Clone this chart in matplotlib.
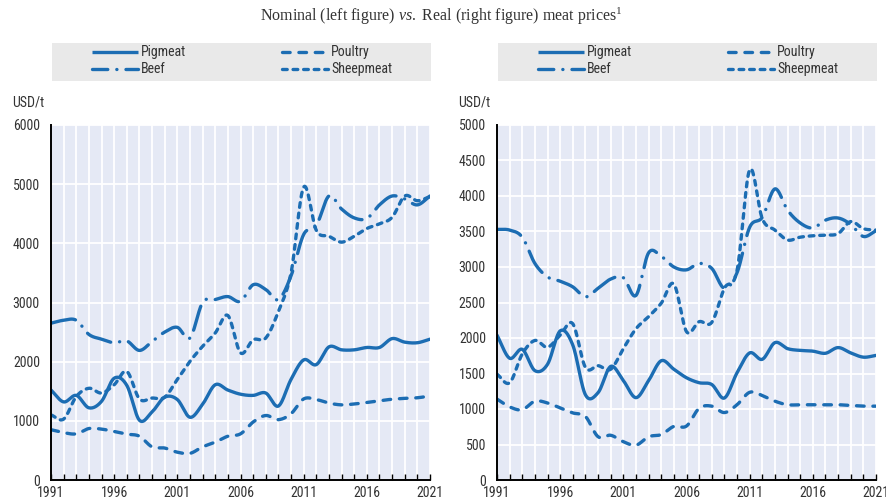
import matplotlib
matplotlib.use("Agg")
import matplotlib.pyplot as plt
import numpy as np
from matplotlib import font_manager
from matplotlib.font_manager import FontProperties
from matplotlib.lines import Line2D
from matplotlib.patches import Rectangle

# ---------------- data ----------------
years = list(range(1991, 2022))

nominal_pigmeat = [1520, 1320, 1430, 1220, 1330, 1720, 1600, 1010, 1150, 1400, 1360, 1060, 1280, 1610, 1520,
                   1450, 1430, 1470, 1250, 1700, 2030, 1950, 2250, 2200, 2200, 2240, 2240, 2390, 2330, 2320, 2380]
nominal_poultry = [850, 800, 780, 870, 860, 820, 775, 740, 560, 540, 470, 450, 560, 640, 740,
                   780, 980, 1090, 1020, 1120, 1370, 1360, 1300, 1270, 1285, 1310, 1340, 1365, 1380, 1390, 1420]
nominal_beef = [2650, 2700, 2700, 2460, 2380, 2320, 2350, 2190, 2340, 2500, 2580, 2400, 3000, 3050, 3100,
                3020, 3300, 3220, 3050, 3450, 4150, 4300, 4800, 4580, 4430, 4420, 4650, 4800, 4750, 4650, 4800]
nominal_sheepmeat = [1100, 1030, 1410, 1550, 1470, 1610, 1835, 1370, 1385, 1400, 1700, 2005, 2260, 2485, 2780,
                     2150, 2370, 2400, 2850, 3500, 4950, 4220, 4120, 4020, 4120, 4250, 4330, 4440, 4800, 4720, 4790]

real_pigmeat = [2040, 1715, 1840, 1540, 1630, 2100, 1900, 1200, 1230, 1600, 1400, 1160, 1400, 1680, 1560,
                1440, 1370, 1345, 1155, 1510, 1790, 1700, 1935, 1850, 1825, 1815, 1785, 1865, 1790, 1730, 1755]
real_poultry = [1140, 1030, 990, 1110, 1085, 1015, 945, 895, 610, 630, 540, 490, 610, 640, 755,
                760, 1010, 1040, 950, 1060, 1235, 1190, 1110, 1060, 1060, 1060, 1060, 1060, 1050, 1040, 1040]
real_beef = [3530, 3520, 3420, 3050, 2860, 2800, 2720, 2580, 2700, 2830, 2850, 2600, 3200, 3150, 3000,
             2960, 3050, 2980, 2700, 2920, 3560, 3700, 4100, 3800, 3620, 3550, 3660, 3690, 3600, 3430, 3510]
real_sheepmeat = [1490, 1370, 1775, 1965, 1870, 2040, 2200, 1585, 1610, 1560, 1850, 2130, 2300, 2490, 2760,
                  2090, 2230, 2220, 2700, 2950, 4370, 3680, 3520, 3380, 3420, 3440, 3450, 3470, 3640, 3540, 3520]

series_names = ["Pigmeat", "Beef", "Poultry", "Sheepmeat"]
x_tick_labels = ["1991", "1996", "2001", "2006", "2011", "2016", "2021"]
left_yticks = [0, 1000, 2000, 3000, 4000, 5000, 6000]
right_yticks = [0, 500, 1000, 1500, 2000, 2500, 3000, 3500, 4000, 4500, 5000]
unit_label = "USD/t"
subtitle = r"Nominal (left figure) $\mathit{vs.}$ Real (right figure) meat prices$^{1}$"

# ---------------- fonts ----------------
def find_condensed():
    cands = []
    for f in font_manager.fontManager.ttflist:
        nm = (f.name + " " + f.fname).lower()
        if f.style != "normal" or f.weight not in (400, "normal", "regular"):
            continue
        if "narrow" in nm and "liberation" in nm:
            cands.append((0, f.fname))
        elif "condensed" in nm and "roboto" in nm:
            cands.append((1, f.fname))
        elif "condensed" in nm and ("open" in nm or "noto" in nm):
            cands.append((2, f.fname))
        elif "condensed" in nm and "dejavu" in nm and "bold" not in nm and "oblique" not in nm:
            cands.append((3, f.fname))
    if cands:
        cands.sort()
        return cands[0][1]
    return None


cond = find_condensed()
if cond:
    def FP(size):
        return FontProperties(fname=cond, size=size)
    base_size = 10
else:
    def FP(size):
        return FontProperties(family="Liberation Sans", size=size)
    base_size = 9

plt.rcParams["font.family"] = ["Liberation Sans", "DejaVu Sans"]
plt.rcParams["lines.scale_dashes"] = False
plt.rcParams["mathtext.fontset"] = "custom"
plt.rcParams["mathtext.rm"] = "Liberation Serif"
plt.rcParams["mathtext.it"] = "Liberation Serif:italic"

BLUE = "#1c6db3"
BG = "#e5e9f5"
TXT = "#333333"
LW = 2.4
styles = {
    "Pigmeat": dict(linestyle="-"),
    "Beef": dict(linestyle=(0, (18, 6.5, 0.1, 6.5))),
    "Poultry": dict(linestyle=(0, (5.5, 6.3))),
    "Sheepmeat": dict(linestyle=(0, (3.4, 4.2))),
}

W, H = 887, 504
fig = plt.figure(figsize=(W / 100, H / 100), dpi=100)


def fx(px):
    return px / W


def fy(py):
    return 1 - py / H


def smooth(x, y, n=24):
    x = np.asarray(x, float)
    y = np.asarray(y, float)
    px = np.concatenate([[2 * x[0] - x[1]], x, [2 * x[-1] - x[-2]]])
    py = np.concatenate([[2 * y[0] - y[1]], y, [2 * y[-1] - y[-2]]])
    xs, ys = [], []
    t = np.linspace(0, 1, n, endpoint=False)
    for i in range(1, len(px) - 2):
        for arr, out in ((px, xs), (py, ys)):
            p0, p1, p2, p3 = arr[i - 1], arr[i], arr[i + 1], arr[i + 2]
            out.append(0.5 * ((2 * p1) + (-p0 + p2) * t + (2 * p0 - 5 * p1 + 4 * p2 - p3) * t ** 2
                              + (-p0 + 3 * p1 - 3 * p2 + p3) * t ** 3))
    xs.append([x[-1]])
    ys.append([y[-1]])
    return np.concatenate(xs), np.concatenate(ys)


def make_panel(left_px, data, yticks, ymax):
    ax = fig.add_axes([fx(left_px), fy(480), fx(379), 355 / H])
    ax.set_facecolor(BG)
    for name in ["Sheepmeat", "Poultry", "Beef", "Pigmeat"]:
        sx, sy = smooth(years, data[name])
        ax.plot(sx, sy, color=BLUE, lw=LW, dash_capstyle="round", solid_capstyle="round",
                **styles[name])
    ax.set_xlim(years[0], years[-1])
    ax.set_ylim(0, ymax)
    ax.set_xticks([int(v) for v in x_tick_labels])
    ax.set_xticklabels(x_tick_labels, fontproperties=FP(base_size), color=TXT)
    ax.set_xticks(years, minor=True)
    ax.set_yticks(yticks)
    ax.set_yticklabels([str(v) for v in yticks], fontproperties=FP(base_size), color=TXT)
    ax.set_axisbelow(True)
    ax.grid(which="both", axis="x", color="white", lw=1.3)
    ax.grid(which="major", axis="y", color="white", lw=1.3)
    for s in ["top", "right"]:
        ax.spines[s].set_visible(False)
    for s in ["left", "bottom"]:
        ax.spines[s].set_color("black")
        ax.spines[s].set_linewidth(1.4)
    ax.tick_params(axis="x", which="both", direction="in", length=4.5, width=1.0, color="black", pad=4.5)
    ax.tick_params(axis="y", which="both", length=0, pad=8)
    fig.text(fx(left_px - 39), fy(103), unit_label, fontproperties=FP(base_size), color=TXT,
             va="center", ha="left")
    return ax


make_panel(51, {"Pigmeat": nominal_pigmeat, "Beef": nominal_beef, "Poultry": nominal_poultry,
                "Sheepmeat": nominal_sheepmeat}, left_yticks, 6000)
make_panel(497, {"Pigmeat": real_pigmeat, "Beef": real_beef, "Poultry": real_poultry,
                 "Sheepmeat": real_sheepmeat}, right_yticks, 5000)

# legends
for shift in (0, 446):
    fig.add_artist(Rectangle((fx(52 + shift), fy(81)), fx(379), 38 / H, transform=fig.transFigure,
                             facecolor="#e9e9e9", edgecolor="none", zorder=0))
    pos = {"Pigmeat": (92, 52), "Beef": (92, 69), "Poultry": (282, 52), "Sheepmeat": (282, 69)}
    for name in series_names:
        x0, y0 = pos[name]
        ls = styles[name]["linestyle"]
        if name == "Beef":
            ls = (7, (18, 6.5, 0.1, 6.5))
        fig.add_artist(Line2D([fx(x0 + shift), fx(x0 + shift + 46)], [fy(y0), fy(y0)],
                              transform=fig.transFigure, color=BLUE, lw=LW, linestyle=ls,
                              dash_capstyle="round", solid_capstyle="butt"))
        fig.text(fx(x0 + shift + 49), fy(y0), name, fontproperties=FP(base_size), color=TXT,
                 va="center", ha="left")

fig.text(fx(441), fy(16), subtitle, fontsize=11.5, color=TXT, ha="center", va="center",
         family="Liberation Serif")

fig.savefig("out.png", dpi=100)
